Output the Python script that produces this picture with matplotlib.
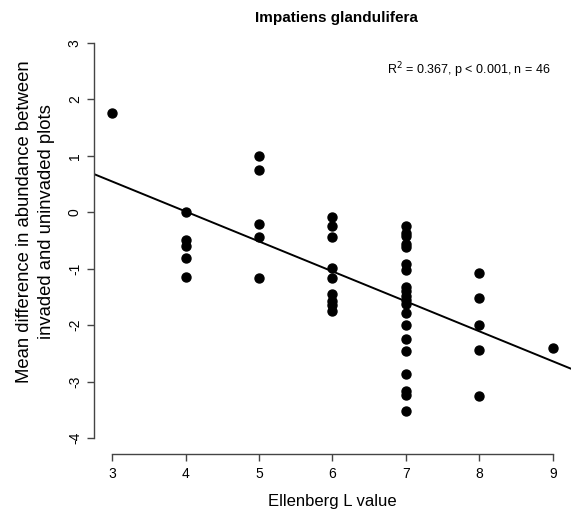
import numpy as np
import matplotlib
matplotlib.use("Agg")
import matplotlib.pyplot as plt

plt.rcParams['font.family'] = ['Liberation Sans', 'DejaVu Sans']

# Ellenberg L value of each plot pair and the difference in abundance
ellenberg_3 = [1.76]
ellenberg_4 = [0.0, -0.49, -0.59, -0.81, -1.14]
ellenberg_5 = [1.0, 0.75, -0.2, -0.43, -1.17]
ellenberg_6 = [-0.08, -0.24, -0.43, -0.99, -1.17, -1.44, -1.57, -1.65, -1.74]
ellenberg_7 = [-0.25, -0.36, -0.42, -0.56, -0.62, -0.92, -1.03,
               -1.33, -1.40, -1.48, -1.55, -1.62, -1.78, -1.99, -2.25,
               -2.46, -2.87, -3.17, -3.24, -3.51]
ellenberg_8 = [-1.08, -1.51, -1.99, -2.44, -3.26]
ellenberg_9 = [-2.41]

groups = [ellenberg_3, ellenberg_4, ellenberg_5, ellenberg_6,
          ellenberg_7, ellenberg_8, ellenberg_9]
x_levels = [3, 4, 5, 6, 7, 8, 9]

x = np.concatenate([[lv] * len(g) for lv, g in zip(x_levels, groups)])
y = np.concatenate(groups)

x_ticks = [3, 4, 5, 6, 7, 8, 9]
y_ticks = [-4, -3, -2, -1, 0, 1, 2, 3]

W, H = 577, 513
fig = plt.figure(figsize=(W / 100, H / 100), dpi=100)
ax = fig.add_axes([0.1636, 0.115, 0.9889 - 0.1636, 0.9474 - 0.115])

ax.scatter(x, y, s=42, color='black', zorder=3)

# least squares line across the whole plot region
slope, intercept = np.polyfit(x, y, 1)
xlim = (2.76, 9.24)
xs = np.array(xlim)
ax.plot(xs, intercept + slope * xs, color='black', lw=1.4)

ax.set_xlim(xlim)
ax.set_ylim(-4.28, 3.28)
ax.set_xticks(x_ticks)
ax.set_yticks(y_ticks)
ax.set_yticklabels([str(t) for t in y_ticks], rotation=90, va='center')

for s in ['top', 'right']:
    ax.spines[s].set_visible(False)
ax.spines['left'].set_bounds(-4, 3)
ax.spines['bottom'].set_bounds(3, 9)
for s in ['left', 'bottom']:
    ax.spines[s].set_color('#444444')
    ax.spines[s].set_linewidth(1.0)
ax.tick_params(direction='out', length=5, width=1.0, color='#444444',
               labelsize=10, pad=4)

ax.set_xlabel('Ellenberg L value', fontsize=12, labelpad=10)

# y label and title placed in figure pixels to match the R layout
fig.text(35.5 / W, 1 - 222 / H,
         'Mean difference in abundance between\ninvaded and uninvaded plots',
         rotation=90, ha='center', va='center', fontsize=13.3,
         linespacing=1.35, multialignment='center')
fig.text(336 / W, 1 - 18 / H, 'Impatiens glandulifera',
         ha='center', va='center', fontsize=11, fontweight='bold')

ax.text(0.957, 0.899, r'R$^2$ = 0.367, p < 0.001, n = 46', transform=ax.transAxes,
        ha='right', va='center', fontsize=9)

fig.savefig('out.png', dpi=100)
